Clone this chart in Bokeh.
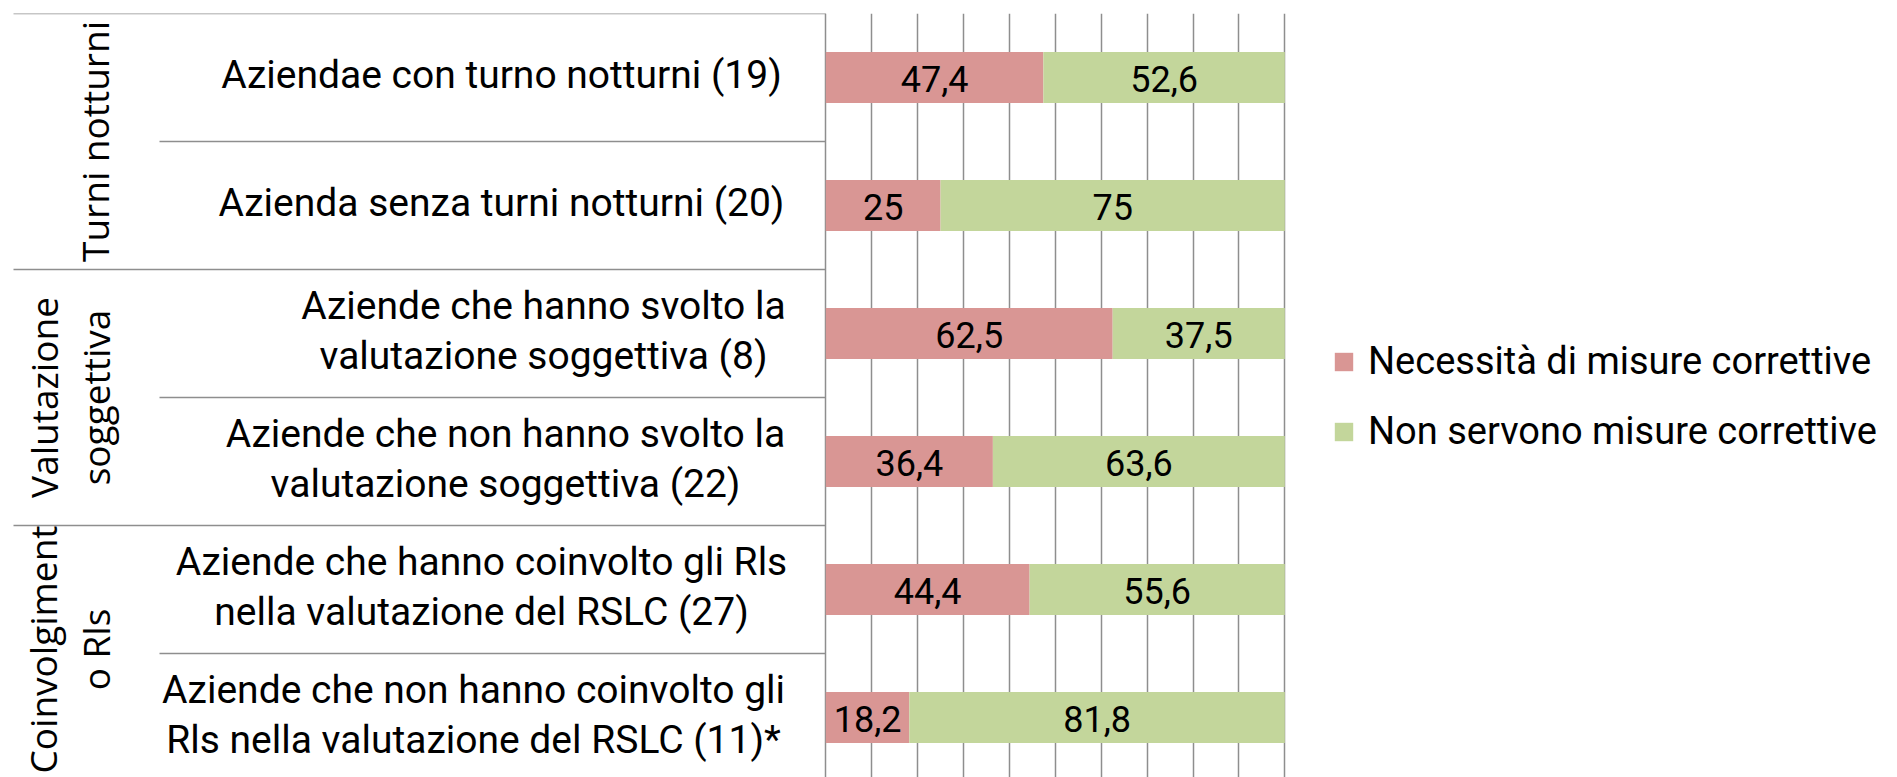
import math
from bokeh.plotting import figure
from bokeh.models import Range1d, Grid, FixedTicker, Legend, LegendItem, ColumnDataSource
from bokeh.core.properties import value
from bokeh.embed import file_html
from bokeh.resources import INLINE

# ---------------- data ----------------
groups = ["Turni notturni", "Valutazione\nsoggettiva", "Coinvolgiment\no Rls"]
group_sizes = [2, 2, 2]
categories = [
    "Aziendae con turno notturni (19)",
    "Azienda senza turni notturni (20)",
    "Aziende che hanno svolto la\nvalutazione soggettiva (8)",
    "Aziende che non hanno svolto la\nvalutazione soggettiva (22)",
    "Aziende che hanno coinvolto gli Rls\nnella valutazione del RSLC (27)",
    "Aziende che non hanno coinvolto gli\nRls nella valutazione del RSLC (11)*",
]
necessita = [47.4, 25, 62.5, 36.4, 44.4, 18.2]
non_servono = [52.6, 75, 37.5, 63.6, 55.6, 81.8]
series_names = ["Necessità di misure correttive", "Non servono misure correttive"]
value_ticks = [0, 10, 20, 30, 40, 50, 60, 70, 80, 90, 100]

# ---------------- layout / style ----------------
W, H = 1897, 777
AXIS_PX = 825.3          # page x of value 0
PX_PER_PCT = 4.59        # px per percent
TOP_PX = 13              # page y of first category top
CAT_PX = 128             # px per category
FRAME_H = H - TOP_PX

def sx(px):
    return (px - AXIS_PX) / PX_PER_PCT

PINK = "#D99694"
GREEN = "#C3D69B"
GRID = "#8e8e8e"
LABEL_FONT = value("Roboto")
GROUP_FONT = value("Open Sans")

LABEL_CENTER_PX = [501, 501, 543, 505, 481, 473]
LABEL_LINE_PX = 50
GROUP_CENTER_PX = [[94], [43, 95], [42, 95]]
GROUP_SHIFT_PX = [0, 0, -4]

p = figure(width=W, height=H, output_backend="svg", toolbar_location=None,
           x_range=Range1d(sx(0), sx(W)),
           y_range=Range1d(FRAME_H / CAT_PX, 0),
           x_axis_location=None, y_axis_location=None,
           min_border_left=0, min_border_right=0, min_border_top=TOP_PX,
           min_border_bottom=0)
p.outline_line_color = None
p.background_fill_color = "white"
p.border_fill_color = "white"
for g in p.grid:
    g.visible = False

p.add_layout(Grid(dimension=0, ticker=FixedTicker(ticks=value_ticks),
                  grid_line_color=GRID, grid_line_width=1.5))

n = len(categories)
yc = [i + 0.5 for i in range(n)]
src = ColumnDataSource(dict(
    y=yc,
    nec=necessita,
    non=non_servono,
    end=[a + b for a, b in zip(necessita, non_servono)],
    nec_mid=[a / 2 for a in necessita],
    non_mid=[a + b / 2 for a, b in zip(necessita, non_servono)],
    nec_txt=[f"{v:g}".replace(".", ",") for v in necessita],
    non_txt=[f"{v:g}".replace(".", ",") for v in non_servono],
))

r1 = p.hbar(y="y", left=0, right="nec", height=0.4, source=src,
            fill_color=PINK, line_color=None)
r2 = p.hbar(y="y", left="nec", right="end", height=0.4, source=src,
            fill_color=GREEN, line_color=None)

for xcol, tcol in (("nec_mid", "nec_txt"), ("non_mid", "non_txt")):
    p.text(x=xcol, y="y", text=tcol, source=src, text_align="center",
           text_baseline="middle", y_offset=1, text_font=LABEL_FONT,
           text_font_size="36px", text_color="black")

# separator lines in the category label area
bx0, by = [], []
b = 0
for gs in group_sizes:
    for k in range(gs):
        by.append(b + k)
        bx0.append(sx(13) if k == 0 else sx(159))
    b += gs
p.segment(x0=bx0, y0=by, x1=[0] * len(by), y1=by, line_color=GRID, line_width=1.5)

# category labels
lx, ly, lt, lo = [], [], [], []
for i, cat in enumerate(categories):
    lines = cat.split("\n")
    m = len(lines)
    for k, line in enumerate(lines):
        lx.append(sx(LABEL_CENTER_PX[i]))
        ly.append(yc[i])
        lt.append(line)
        lo.append(-3 + (k - (m - 1) / 2) * LABEL_LINE_PX)
p.text(x=lx, y=ly, text=lt, y_offset=lo, text_align="center",
       text_baseline="middle", text_font=LABEL_FONT, text_font_size="39px",
       text_color="black")

# group labels (rotated)
gx, gy, gt, go = [], [], [], []
b = 0
for g, gs, cl, sh in zip(groups, group_sizes, GROUP_CENTER_PX, GROUP_SHIFT_PX):
    for line, cpx in zip(g.split("\n"), cl):
        gx.append(sx(cpx))
        gy.append(b + gs / 2)
        gt.append(line)
        go.append(sh)
    b += gs
p.text(x=gx, y=gy, text=gt, y_offset=go, angle=math.pi / 2, text_align="center",
       text_baseline="middle", text_font=GROUP_FONT, text_font_size="37px",
       text_color="black")

legend = Legend(items=[LegendItem(label=series_names[0], renderers=[r1]),
                       LegendItem(label=series_names[1], renderers=[r2])],
                location=(1332, 324), orientation="vertical",
                glyph_width=23, glyph_height=23, label_standoff=13, spacing=26,
                padding=0, margin=0, border_line_color=None,
                background_fill_alpha=0, label_text_font="Roboto",
                label_text_font_size="38px", label_text_color="black")
p.add_layout(legend)

open("out.html", "w").write(file_html(p, INLINE))
